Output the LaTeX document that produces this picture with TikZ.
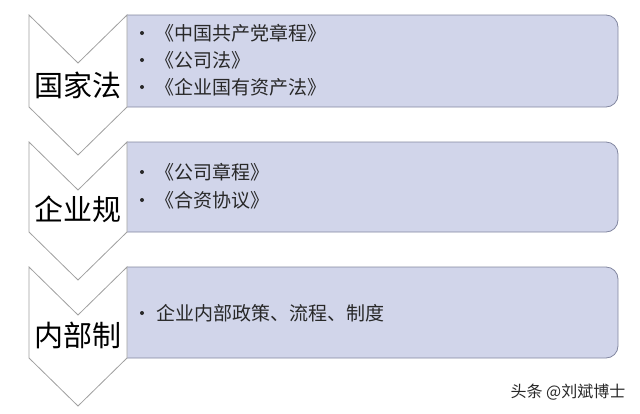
\documentclass[tikz,border=0pt]{standalone}
\usepackage{fontspec}
\setmainfont{Noto Sans CJK SC}
\definecolor{chevgray}{RGB}{160,160,160}
\definecolor{panelfill}{RGB}{209,213,234}
\definecolor{panelline}{RGB}{130,135,160}
\definecolor{itemtext}{RGB}{40,40,40}
\begin{document}
\begin{tikzpicture}[x=1pt, y=-1pt,
   chev/.style={draw=chevgray, fill=white, line width=0.8pt},
   panel/.style={draw=panelline, fill=panelfill, line width=0.8pt, rounded corners=12pt},
   title/.style={font=\fontsize{29}{29}\selectfont, inner sep=0pt},
   item/.style={font=\fontsize{19}{19}\selectfont, anchor=west, inner sep=0pt, text=itemtext},
   dot/.style={circle, fill=itemtext, inner sep=0pt, minimum size=4pt}]
   \useasboundingbox (0,0) rectangle (640,413);
   % panels
   \filldraw[panel] (127,15) -- (618,15) -- (618,107) -- (127,107);
   \filldraw[panel] (127,142) -- (618,142) -- (618,232) -- (127,232);
   \filldraw[panel] (127,267) -- (618,267) -- (618,358) -- (127,358);
   % chevrons
   \draw[chev] (29,15) -- (78,63) -- (127,15) -- (127,107) -- (78,155) -- (29,107) -- cycle;
   \draw[chev] (29,142) -- (78,190) -- (127,142) -- (127,232) -- (78,280) -- (29,232) -- cycle;
   \draw[chev] (29,267) -- (78,315) -- (127,267) -- (127,358) -- (78,406) -- (29,358) -- cycle;
   \node[title] (guojia) at (78,85) {国家法};
   \node[title] (qiye) at (78,209) {企业规};
   \node[title] (neibu) at (78,335) {内部制};
   % items
   \node[dot] (d1) at (142,33) {};
   \node[dot] (d2) at (142,60) {};
   \node[dot] (d3) at (142,87) {};
   \node[item] (zhangcheng) at (155,33) {《中国共产党章程》};
   \node[item] (gongsifa) at (155,60) {《公司法》};
   \node[item] (guoziffa) at (155,87) {《企业国有资产法》};
   \node[dot] (d4) at (142,172) {};
   \node[dot] (d5) at (142,200) {};
   \node[item] (gszc) at (155,172) {《公司章程》};
   \node[item] (hezi) at (155,200) {《合资协议》};
   \node[dot] (d6) at (142,313) {};
   \node[item] (zhidu) at (156,313) {企业内部政策、流程、制度};
   % watermark
   \node[font=\fontsize{16}{16}\selectfont, text=itemtext, inner sep=0pt] (mark) at (568,392) {头条 @刘斌博士};
\end{tikzpicture}
\end{document}
